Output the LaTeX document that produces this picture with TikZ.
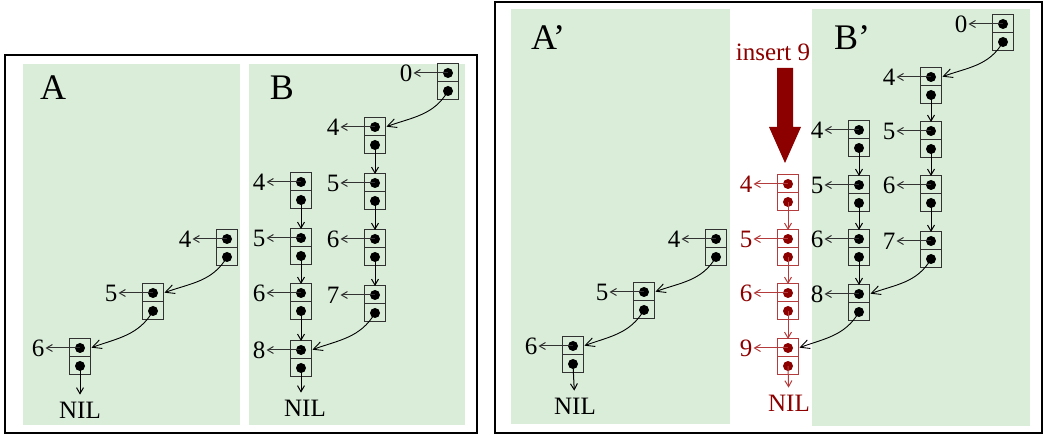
\documentclass[tikz,border=0pt]{standalone}
\usepackage{fontspec}
\setmainfont{Liberation Serif}
\usepackage{tikz}
\usetikzlibrary{arrows.meta,positioning}

\definecolor{panelgreen}{RGB}{217,237,217}
\definecolor{insred}{RGB}{140,0,0}
\definecolor{insline}{RGB}{180,60,60}
\definecolor{cellline}{RGB}{50,50,50}

\tikzstyle{half}=[draw=cellline,line width=1pt,minimum width=21pt,minimum height=18pt,inner sep=0pt,outer sep=0pt]
\tikzstyle{num}=[font=\fontsize{25}{30}\selectfont,inner sep=1pt]
\tikzstyle{big}=[font=\fontsize{36}{40}\selectfont,inner sep=0pt]
\tikzstyle{ptr}=[-{Straight Barb[length=6pt,width=7pt]},line width=1pt]
\tikzstyle{curv}=[-{Straight Barb[length=9pt,width=9pt]},line width=0.9pt,shorten >=1pt]
\tikzstyle{tonil}=[ptr,shorten >=6pt]
\tikzstyle{frame}=[line width=2pt]

% one list cell: name, x, y, key, line colour, dot colour
\newcommand{\listcell}[6]{%
  \node[half,draw=#5] (#1) at (#2,#3) {};
  \node[half,draw=#5,below=0pt of #1] (#1d) {};
  \fill[#6] (#1.center) circle (5pt) (#1d.center) circle (5pt);
  \node[num,text=#6,left=24pt of #1] (#1n) {#4};
  \draw[ptr,#5] (#1.center) -- (#1n);
}

\begin{document}
\begin{tikzpicture}[x=1pt,y=-1pt]

\useasboundingbox (0,0) rectangle (1044,435);

%%% Frames and panels

\draw[frame] (5,55) rectangle (477,433);
\draw[frame] (495,2) rectangle (1042,433);

\fill[panelgreen] (23,64) rectangle (240,425);
\fill[panelgreen] (249,64) rectangle (465,425);
\fill[panelgreen] (511,9) rectangle (730,424);
\fill[panelgreen] (812,9) rectangle (1030,426);

\node[big] (labA) at (53,88) {A};
\node[big] (labB) at (282,88) {B};
\node[big] (labA2) at (548,38) {A'};
\node[big] (labB2) at (852,38) {B'};

%%% List A

\listcell{a4}{227}{239}{4}{cellline}{black}
\listcell{a5}{153}{293}{5}{cellline}{black}
\listcell{a6}{80}{348}{6}{cellline}{black}
\node[num] (nila) at (80,410) {NIL};

\draw[curv] (a4d.center) to[out=-120,in=20] (a5.east);
\draw[curv] (a5d.center) to[out=-120,in=20] (a6.east);
\draw[tonil] (a6d.center) -- (nila);

%%% List B

\listcell{b0}{448}{73}{0}{cellline}{black}

% right column
\listcell{b4r}{375}{127}{4}{cellline}{black}
\listcell{b5r}{375}{183}{5}{cellline}{black}
\listcell{b6r}{375}{239}{6}{cellline}{black}
\listcell{b7r}{375}{295}{7}{cellline}{black}

% left column
\listcell{b4l}{301}{182}{4}{cellline}{black}
\listcell{b5l}{301}{238}{5}{cellline}{black}
\listcell{b6l}{301}{293}{6}{cellline}{black}
\listcell{b8l}{301}{350}{8}{cellline}{black}
\node[num] (nilb) at (305,408) {NIL};

\draw[curv] (b0d.center) to[out=-120,in=20] (b4r.east);
\draw[ptr] (b4rd.center) -- (b5r.north);
\draw[ptr] (b5rd.center) -- (b6r.north);
\draw[ptr] (b6rd.center) -- (b7r.north);
\draw[curv] (b7rd.center) to[out=-120,in=20] (b8l.east);

\draw[ptr] (b4ld.center) -- (b5l.north);
\draw[ptr] (b5ld.center) -- (b6l.north);
\draw[ptr] (b6ld.center) -- (b8l.north);
\draw[tonil] (b8ld.center) -- (b8ld.center |- nilb.north);

%%% List A'

\listcell{c4}{716}{239}{4}{cellline}{black}
\listcell{c5}{644}{292}{5}{cellline}{black}
\listcell{c6}{573}{346}{6}{cellline}{black}
\node[num] (nilc) at (575,406) {NIL};

\draw[curv] (c4d.center) to[out=-120,in=20] (c5.east);
\draw[curv] (c5d.center) to[out=-120,in=20] (c6.east);
\draw[tonil] (c6d.center) -- (nilc);

%%% Inserted cells

\node[num,text=insred] (ins) at (773,52) {insert 9};
\fill[insred] (777,68) -- (793,68) -- (793,127) -- (801,127) -- (785,163)
  -- (769,127) -- (777,127) -- cycle;

\listcell{r4}{788}{184}{4}{insline}{insred}
\listcell{r5}{788}{239}{5}{insline}{insred}
\listcell{r6}{788}{293}{6}{insline}{insred}
\listcell{r9}{788}{348}{9}{insline}{insred}
\node[num,text=insred] (nilr) at (789,403) {NIL};

\draw[ptr,insline] (r4d.center) -- (r5.north);
\draw[ptr,insline] (r5d.center) -- (r6.north);
\draw[ptr,insline] (r6d.center) -- (r9.north);
\draw[tonil,insline] (r9d.center) -- (nilr);

%%% List B'

\listcell{d0}{1003}{24}{0}{cellline}{black}

% right column
\listcell{d4r}{931}{77}{4}{cellline}{black}
\listcell{d5r}{931}{131}{5}{cellline}{black}
\listcell{d6r}{931}{185}{6}{cellline}{black}
\listcell{d7r}{931}{241}{7}{cellline}{black}

% left column
\listcell{d4l}{859}{130}{4}{cellline}{black}
\listcell{d5l}{859}{185}{5}{cellline}{black}
\listcell{d6l}{859}{239}{6}{cellline}{black}
\listcell{d8l}{859}{294}{8}{cellline}{black}

\draw[curv] (d0d.center) to[out=-120,in=20] (d4r.east);
\draw[ptr] (d4rd.center) -- (d5r.north);
\draw[ptr] (d5rd.center) -- (d6r.north);
\draw[ptr] (d6rd.center) -- (d7r.north);
\draw[curv] (d7rd.center) to[out=-120,in=20] (d8l.east);

\draw[ptr] (d4ld.center) -- (d5l.north);
\draw[ptr] (d5ld.center) -- (d6l.north);
\draw[ptr] (d6ld.center) -- (d8l.north);
\draw[curv] (d8ld.center) to[out=-120,in=20] (r9.east);

\end{tikzpicture}
\end{document}
